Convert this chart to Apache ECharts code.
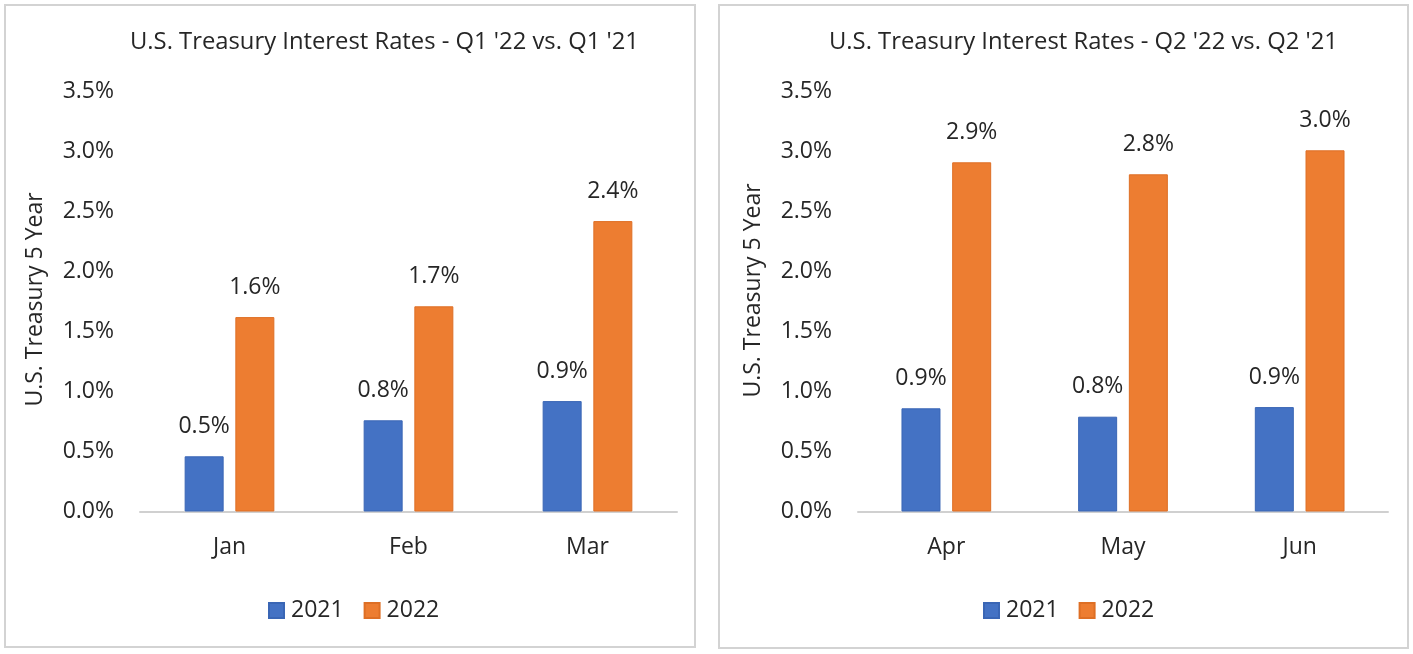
<!DOCTYPE html>
<html>
<head>
<meta charset="utf-8">
<script src="https://cdn.jsdelivr.net/npm/echarts@6/dist/echarts.min.js"></script>
<style>
  html, body { margin: 0; padding: 0; background: #fff; }
  #chart { width: 1413px; height: 654px; }
</style>
</head>
<body>
<div id="chart"></div>
<script>
// ---- Data ----
const monthsQ1 = ['Jan', 'Feb', 'Mar'];
const monthsQ2 = ['Apr', 'May', 'Jun'];
const q1Rates2021 = [0.46, 0.76, 0.92];
const q1Rates2022 = [1.62, 1.71, 2.42];
const q2Rates2021 = [0.86, 0.79, 0.87];
const q2Rates2022 = [2.91, 2.81, 3.01];
const seriesNames = ['2021', '2022'];
const titleQ1 = "U.S. Treasury Interest Rates - Q1 '22 vs. Q1 '21";
const titleQ2 = "U.S. Treasury Interest Rates - Q2 '22 vs. Q2 '21";
const yAxisTitle = 'U.S. Treasury 5 Year';
const yMin = 0, yMax = 3.5, yInterval = 0.5;

// ---- Styles ----
const FONT = 'Open Sans';
const FS = 23;
const TXT = '#262626';
const BLUE = '#4472C4';
const ORANGE = '#ED7D31';
const BORDER_GRAY = '#D3D3D3';

const pct = v => v.toFixed(1) + '%';

function yAxis(gridIndex, padLeft) {
  return {
    type: 'value', gridIndex, min: yMin, max: yMax, interval: yInterval,
    name: yAxisTitle, nameLocation: 'middle', nameGap: 93,
    nameTextStyle: { fontFamily: FONT, fontSize: FS, color: TXT, padding: [0, 0, 0, padLeft] },
    axisLine: { show: false }, axisTick: { show: false }, splitLine: { show: false },
    axisLabel: { formatter: pct, fontFamily: FONT, fontSize: FS, color: TXT, margin: 26 }
  };
}
function xAxis(gridIndex, cats) {
  return {
    type: 'category', gridIndex, data: cats,
    axisLine: { lineStyle: { color: '#D0D0D0', width: 2 } },
    axisTick: { show: false },
    axisLabel: { fontFamily: FONT, fontSize: FS, color: TXT, margin: 24, lineHeight: 24 }
  };
}
function barSeries(name, data, idx, color, border) {
  return {
    type: 'bar', name, data, xAxisIndex: idx, yAxisIndex: idx,
    barWidth: 39, barGap: '30%',
    itemStyle: { color, borderColor: border, borderWidth: 1 },
    label: { show: true, position: 'top', distance: 18, formatter: p => pct(p.value),
             fontFamily: FONT, fontSize: FS, color: TXT, lineHeight: 24 }
  };
}
function legend(left) {
  return {
    data: seriesNames, left, top: 599, padding: 0, icon: 'rect',
    itemWidth: 15, itemHeight: 15, itemGap: 20,
    textStyle: { fontFamily: FONT, fontSize: FS, color: TXT, padding: [0, 0, 0, 2] }
  };
}
function title(text, left) {
  return { text, left, top: 28, padding: 0,
           textStyle: { fontFamily: FONT, fontSize: 23.8, fontWeight: 'normal', color: TXT, lineHeight: 28 } };
}

const chart = echarts.init(document.getElementById('chart'), null, { renderer: 'canvas' });
chart.setOption({
  animation: false,
  backgroundColor: '#fff',
  title: [title(titleQ1, 130), title(titleQ2, 829)],
  legend: [legend(268), legend(983)],
  grid: [
    { left: 140, right: 1413 - 677, top: 91.5, bottom: 654 - 511.5 },
    { left: 858, right: 1413 - 1388, top: 91.5, bottom: 654 - 511.5 }
  ],
  xAxis: [xAxis(0, monthsQ1), xAxis(1, monthsQ2)],
  yAxis: [yAxis(0, 4), yAxis(1, 22)],
  series: [
    barSeries(seriesNames[0], q1Rates2021, 0, BLUE, '#3A66B5'),
    barSeries(seriesNames[1], q1Rates2022, 0, ORANGE, '#DE6F25'),
    barSeries(seriesNames[0], q2Rates2021, 1, BLUE, '#3A66B5'),
    barSeries(seriesNames[1], q2Rates2022, 1, ORANGE, '#DE6F25')
  ],
  graphic: [
    { type: 'rect', shape: { x: 5, y: 5, width: 690, height: 642 },
      style: { fill: 'none', stroke: BORDER_GRAY, lineWidth: 2 }, silent: true },
    { type: 'rect', shape: { x: 719, y: 5, width: 689, height: 643 },
      style: { fill: 'none', stroke: BORDER_GRAY, lineWidth: 2 }, silent: true }
  ]
});
</script>
</body>
</html>
